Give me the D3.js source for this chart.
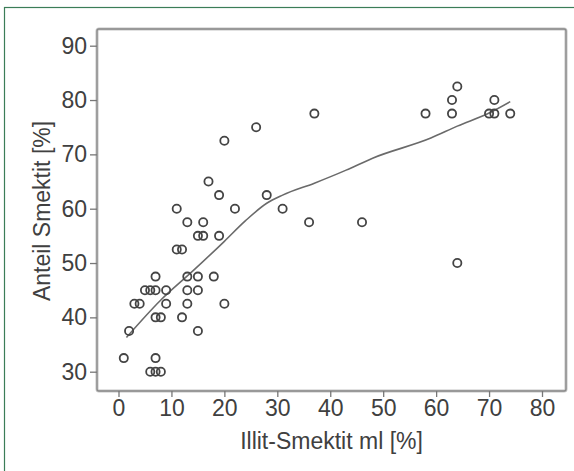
<!DOCTYPE html>
<html><head><meta charset="utf-8">
<script src="https://cdn.jsdelivr.net/npm/d3@7"></script>
<style>
html,body{margin:0;padding:0;background:#fff;}
svg{display:block;}
text{font-family:"Liberation Sans",Arial,sans-serif;}
</style></head>
<body>
<script>
// Data
const illitSmektit = [1,2,3,4,5,6,7,9,7,6,7,8,7,7,8,9,11,11,12,12,13,13,13,13,15,16,15,15,15,16,17,18,19,19,20,20,22,26,28,31,36,37,46,58,63,63,64,64,70,71,71,74];
const anteilSmektit = [32.5,37.5,42.5,42.5,45,45,45,45,47.5,30,30,30,32.5,40,40,42.5,60,52.5,52.5,40,57.5,47.5,45,42.5,55,55,47.5,45,37.5,57.5,65,47.5,62.5,55,72.5,42.5,60,75,62.5,60,57.5,77.5,57.5,77.5,77.5,80,82.5,50,77.5,77.5,80,77.5];
// Fit (loess) line
const fitX = [1.5,8,14,20,24,28,31,37,43,48,59,64,70,74];
const fitY = [36.3,43.2,48.5,54,57.8,61,62.5,64.7,67.1,69.3,73,75.2,77.6,79.7];
const xTicks = [0,10,20,30,40,50,60,70,80];
const yTicks = [30,40,50,60,70,80,90];
const xTitle = "Illit-Smektit ml [%]";
const yTitle = "Anteil Smektit [%]";

const W = 574, H = 471;
const svg = d3.select("body").append("svg").attr("width", W).attr("height", H);

// outer green border (cut off at right/bottom)
svg.append("rect").attr("x",4.5).attr("y",7.5).attr("width",620).attr("height",520)
  .attr("fill","none").attr("stroke","#3b7d58").attr("stroke-width",1.2);

const frame = {l:97, t:29, r:566, b:391};
const x = d3.scaleLinear().domain([0,80]).range([118.5,542]);
const y = d3.scaleLinear().domain([30,90]).range([371.7,45.7]);

// plot frame
svg.append("rect").attr("x",frame.l).attr("y",frame.t)
  .attr("width",frame.r-frame.l).attr("height",frame.b-frame.t)
  .attr("rx",2).attr("fill","#fff").attr("stroke","#c4c4c4").attr("stroke-width",3);
svg.append("rect").attr("x",frame.l).attr("y",frame.t)
  .attr("width",frame.r-frame.l).attr("height",frame.b-frame.t)
  .attr("rx",2).attr("fill","none").attr("stroke","#8a8a8a").attr("stroke-width",1.3);

const fs = 23;
const textColor = "#404040";

const xAxis = svg.append("g").attr("transform",`translate(0,${frame.b})`)
  .call(d3.axisBottom(x).tickValues(xTicks).tickSize(6).tickPadding(3).tickFormat(d3.format("d")));
const yAxis = svg.append("g").attr("transform",`translate(${frame.l},0)`)
  .call(d3.axisLeft(y).tickValues(yTicks).tickSize(7).tickPadding(3).tickFormat(d3.format("d")));
[xAxis,yAxis].forEach(g=>{
  g.select(".domain").remove();
  g.selectAll(".tick line").attr("stroke","#777").attr("stroke-width",1.3);
  g.selectAll(".tick text").attr("fill",textColor).style("font-size",fs+"px")
    .style("font-family",'"Liberation Sans",Arial,sans-serif');
});

// axis titles
svg.append("text").attr("x",(frame.l+frame.r)/2).attr("y",449)
  .attr("text-anchor","middle").attr("fill",textColor).style("font-size",fs+"px").text(xTitle);
svg.append("text").attr("transform",`translate(50,211) rotate(-90)`)
  .attr("text-anchor","middle").attr("fill",textColor).style("font-size",fs+"px").text(yTitle);

// fit line
const fit = fitX.map((v,i)=>[v,fitY[i]]);
svg.append("path").datum(fit)
  .attr("d", d3.line().x(d=>x(d[0])).y(d=>y(d[1])).curve(d3.curveMonotoneX))
  .attr("fill","none").attr("stroke","#6a6a6a").attr("stroke-width",1.6);

// points
const pts = illitSmektit.map((v,i)=>[v,anteilSmektit[i]]);
svg.append("g").selectAll("circle").data(pts).join("circle")
  .attr("cx",d=>x(d[0])).attr("cy",d=>y(d[1])).attr("r",4.1)
  .attr("fill","none").attr("stroke","#444").attr("stroke-width",1.8);
</script>
</body></html>
